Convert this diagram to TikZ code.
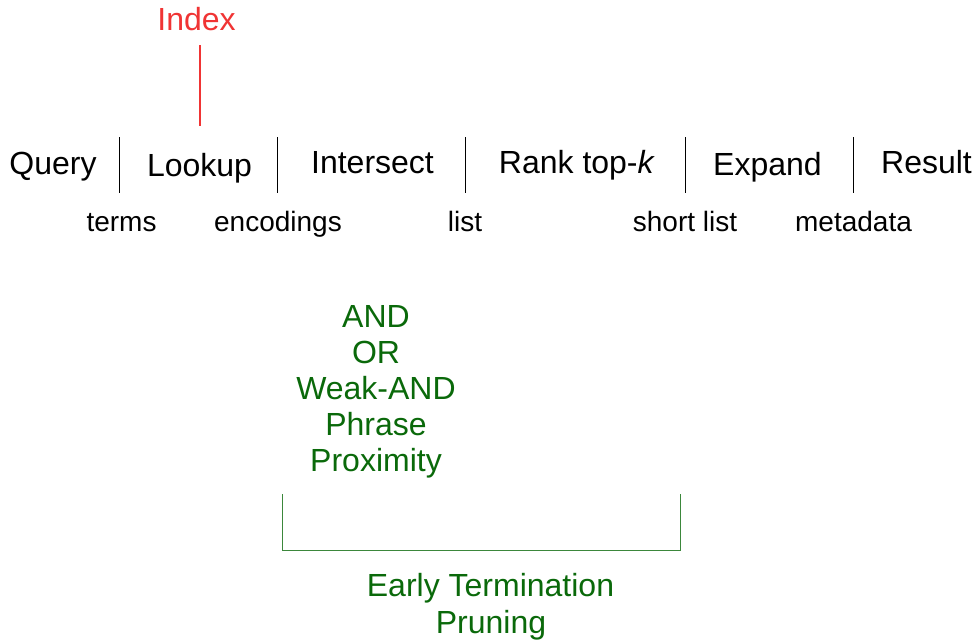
\documentclass[tikz,border=0pt]{standalone}
\usepackage{fontspec}
\setmainfont{Liberation Sans}
\definecolor{idxred}{RGB}{240,52,52}
\definecolor{dgreen}{RGB}{10,105,10}
\begin{document}
\begin{tikzpicture}[x=1pt,y=-1pt,
  big/.style={font=\fontsize{32}{38}\selectfont,inner sep=0pt,anchor=base},
  small/.style={font=\fontsize{28}{34}\selectfont,inner sep=0pt,anchor=base},
  grn/.style={big,text=dgreen},
  sep/.style={draw=black,line width=0.9pt},
  redline/.style={draw=idxred,line width=1.8pt},
  greenline/.style={draw=dgreen!80!white,line width=1pt}]
\useasboundingbox (0,0) rectangle (978,641);
% top label
\node[big,text=idxred] (idx) at (196.5,30) {Index};
% stage labels
\node[big] (q) at (53,174) {Query};
\node[big] (lk) at (199.5,176) {Lookup};
\node[big] (is) at (372.5,173) {Intersect};
\node[big] (rk) at (577,173) {Rank top-\textit{k}};
\node[big] (ex) at (767.5,175) {Expand};
\node[big] (rs) at (926.5,173) {Result};
% separators
\foreach \n/\x in {s1/119,s2/277,s3/465,s4/685,s5/853}{
  \coordinate (\n t) at (\x,137);
  \coordinate (\n b) at (\x,193);
  \draw[sep] (\n t) -- (\n b);
}
% red line
\coordinate (rt) at (200,45);
\coordinate (rb) at (200,126);
\draw[redline] (rt) -- (rb);
% small labels
\node[small] (t1) at (121.5,231) {terms};
\node[small] (t2) at (278,231) {encodings};
\node[small] (t3) at (465,231) {list};
\node[small] (t4) at (685,231) {short list};
\node[small] (t5) at (853.5,231) {metadata};
% green list
\node[grn] (g1) at (376,327) {AND};
\node[grn] (g2) at (376,363) {OR};
\node[grn] (g3) at (376,399) {Weak-AND};
\node[grn] (g4) at (376,435) {Phrase};
\node[grn] (g5) at (376,471) {Proximity};
% bracket
\coordinate (bl) at (282,494);
\coordinate (br) at (680,494);
\draw[greenline] (bl) -- (282,550) -- (680,550) -- (br);
% bottom text
\node[grn] (e1) at (490.5,596) {Early Termination};
\node[grn] (e2) at (491,633) {Pruning};
\end{tikzpicture}
\end{document}
